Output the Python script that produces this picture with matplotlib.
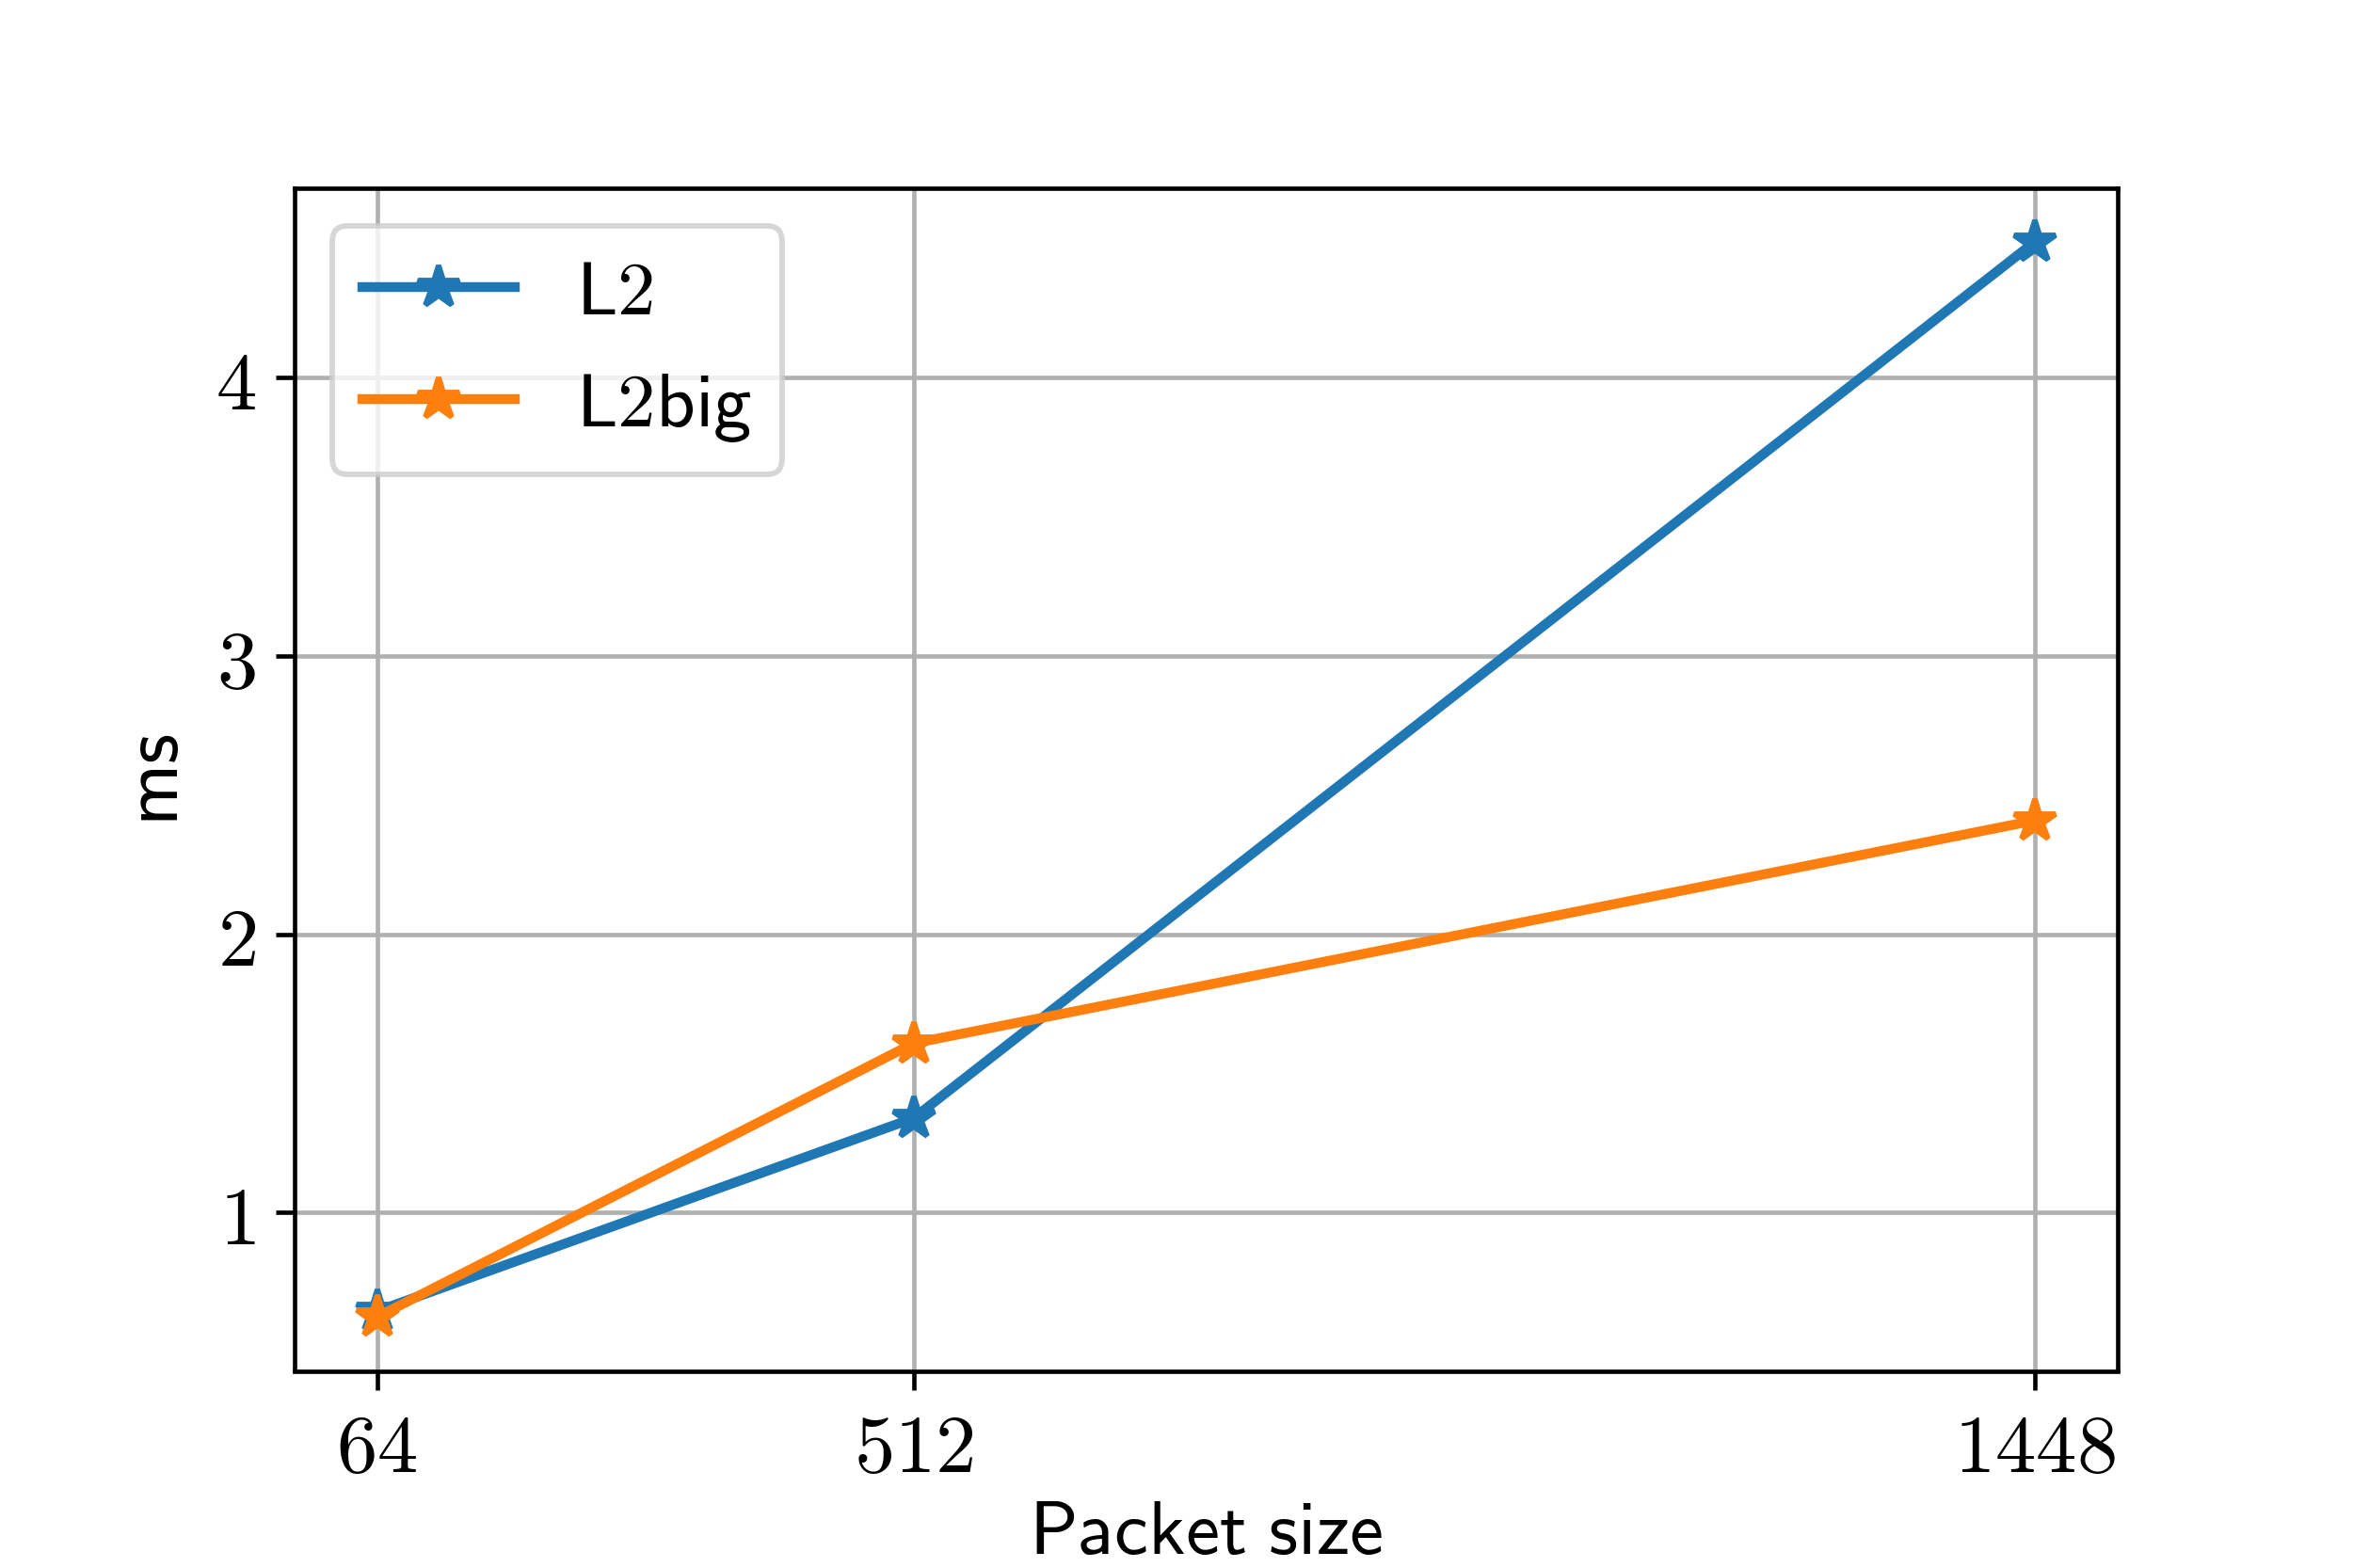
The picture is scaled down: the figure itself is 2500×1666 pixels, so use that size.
import matplotlib
matplotlib.use("Agg")
import matplotlib.pyplot as plt
import numpy as np

plt.rcParams["mathtext.fontset"] = "cm"

packet_sizes = [64, 512, 1448]
l2_ms = [0.645, 1.339, 4.489]
l2big_ms = [0.624, 1.608, 2.409]

fig = plt.figure(figsize=(6, 4), dpi=2500 / 6)
ax = fig.add_axes([0.125, 0.1257, 0.775, 0.754])

ax.plot(packet_sizes, l2_ms, marker="*", markersize=8, linewidth=1.8, label=r"$\mathsf{L2}$")
ax.plot(packet_sizes, l2big_ms, marker="*", markersize=8, linewidth=1.8, label=r"$\mathsf{L2big}$")

ax.set_xticks(packet_sizes)
ax.set_xticklabels(["$%d$" % p for p in packet_sizes])
ax.set_yticks([1, 2, 3, 4])
ax.set_yticklabels(["$%d$" % v for v in [1, 2, 3, 4]])
ax.tick_params(labelsize=15)
ax.grid(True)

ax.set_xlabel(r"$\mathsf{Packet\ size}$", fontsize=14, labelpad=1.5)
ax.set_ylabel(r"$\mathsf{ms}$", fontsize=14.5)
ax.legend(fontsize=14, loc="upper left")

fig.savefig("out.png")
